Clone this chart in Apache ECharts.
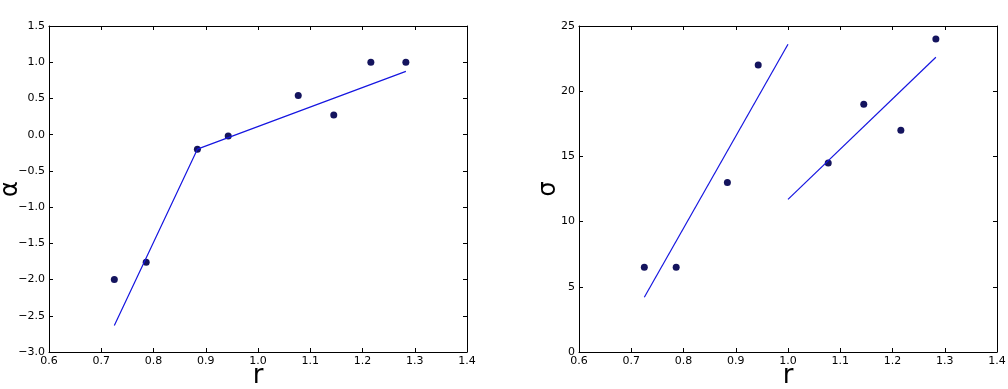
<!DOCTYPE html>
<html>
<head>
<meta charset="utf-8">
<script src="https://cdn.jsdelivr.net/npm/echarts@6/dist/echarts.min.js"></script>
<style>
html,body{margin:0;padding:0;background:#fff;}
#main{width:1008px;height:389px;}
</style>
</head>
<body>
<div id="main"></div>
<script>
// r values (shared by both panels)
var rVals = [0.725, 0.786, 0.884, 0.943, 1.077, 1.145, 1.216, 1.283];
var alphaVals = [-2.0, -1.76, -0.2, -0.02, 0.54, 0.27, 1.0, 1.0];
var sigmaVals = [6.5, 6.5, 13, 22, 14.5, 19, 17, 24];

// fitted line segments, [r, value] end points
var alphaFit = [[0.725, -2.635], [0.884, -0.2], [1.283, 0.873]];
var sigmaFitLow = [[0.725, 4.2], [1.0, 23.6]];
var sigmaFitHigh = [[1.0, 11.7], [1.283, 22.6]];

var dotColor = '#14145e';
var lineColor = '#1515e0';
var fontFam = 'DejaVu Sans';

function minus(s){ return String(s).replace('-', '\u2212'); }

function pts(xs, ys){
	var out = [];
	for (var i = 0; i < xs.length; i++) out.push([xs[i], ys[i]]);
	return out;
}

function xAx(gi, pos, show){
	return {
		type: 'value', gridIndex: gi, position: pos,
		min: 0.6, max: 1.4, interval: 0.1,
		axisLine: {show: true, onZero: false, lineStyle: {color: '#000', width: 1}},
		axisTick: {show: true, inside: true, length: 4, lineStyle: {color: '#000'}},
		splitLine: {show: false},
		axisLabel: {show: show, color: '#000', fontSize: 11, fontFamily: fontFam, margin: 4,
			formatter: function(v){ return v.toFixed(1); }},
		name: show ? 'r' : '', nameLocation: 'middle', nameGap: 11, nameMoveOverlap: false,
		nameTextStyle: {color: '#000', fontSize: 26, fontFamily: fontFam}
	};
}

function yAx(gi, pos, show, mn, mx, step, dec, nm, gap){
	return {
		type: 'value', gridIndex: gi, position: pos,
		min: mn, max: mx, interval: step,
		axisLine: {show: true, onZero: false, lineStyle: {color: '#000', width: 1}},
		axisTick: {show: true, inside: true, length: 4, lineStyle: {color: '#000'}},
		splitLine: {show: false},
		axisLabel: {show: show, color: '#000', fontSize: 11, fontFamily: fontFam, margin: 4,
			formatter: function(v){ return minus(v.toFixed(dec)); }},
		name: show ? nm : '', nameLocation: 'middle', nameGap: gap, nameMoveOverlap: false,
		nameTextStyle: {color: '#000', fontSize: 24, fontFamily: fontFam}
	};
}

var chart = echarts.init(document.getElementById('main'));
chart.setOption({
	animation: false,
	backgroundColor: '#fff',
	grid: [
		{left: 49, top: 26, width: 418, height: 326, containLabel: false, outerBoundsMode: 'none'},
		{left: 579, top: 26, width: 418, height: 326, containLabel: false, outerBoundsMode: 'none'}
	],
	xAxis: [xAx(0, 'bottom', true), xAx(0, 'top', false), xAx(1, 'bottom', true), xAx(1, 'top', false)],
	yAxis: [
		yAx(0, 'left', true, -3, 1.5, 0.5, 1, '\u03b1', 26),
		yAx(0, 'right', false, -3, 1.5, 0.5, 1, '', 0),
		yAx(1, 'left', true, 0, 25, 5, 0, '\u03c3', 18),
		yAx(1, 'right', false, 0, 25, 5, 0, '', 0)
	],
	series: [
		{type: 'line', xAxisIndex: 0, yAxisIndex: 0, data: alphaFit, showSymbol: false,
			lineStyle: {color: lineColor, width: 1.2}},
		{type: 'scatter', xAxisIndex: 0, yAxisIndex: 0, data: pts(rVals, alphaVals),
			symbolSize: 7, itemStyle: {color: dotColor, opacity: 1}},
		{type: 'line', xAxisIndex: 2, yAxisIndex: 2, data: sigmaFitLow, showSymbol: false,
			lineStyle: {color: lineColor, width: 1.2}},
		{type: 'line', xAxisIndex: 2, yAxisIndex: 2, data: sigmaFitHigh, showSymbol: false,
			lineStyle: {color: lineColor, width: 1.2}},
		{type: 'scatter', xAxisIndex: 2, yAxisIndex: 2, data: pts(rVals, sigmaVals),
			symbolSize: 7, itemStyle: {color: dotColor, opacity: 1}}
	]
});
</script>
</body>
</html>
